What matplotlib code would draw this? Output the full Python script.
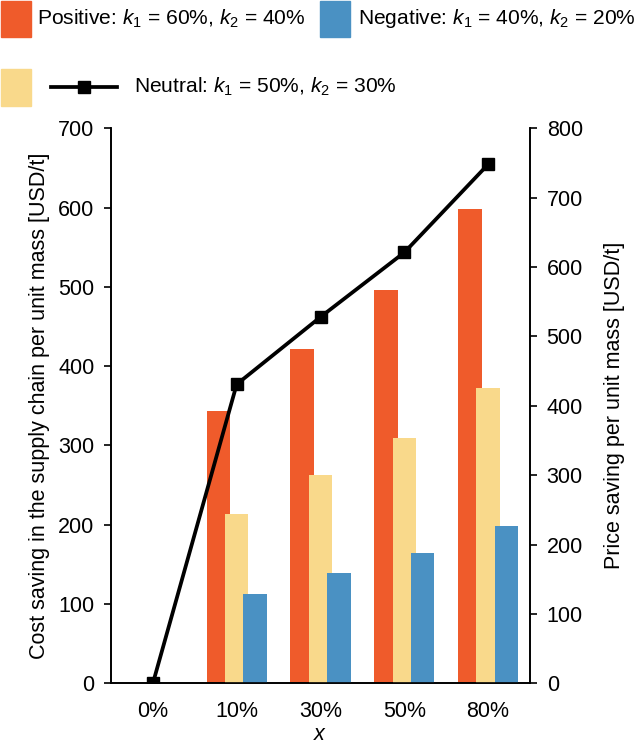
import numpy as np
import matplotlib
matplotlib.use('Agg')
import matplotlib.pyplot as plt
from matplotlib.patches import Rectangle
from matplotlib.lines import Line2D

plt.rcParams['font.family'] = ['Liberation Sans', 'DejaVu Sans']
plt.rcParams['mathtext.fontset'] = 'custom'
plt.rcParams['mathtext.rm'] = 'Liberation Sans'
plt.rcParams['mathtext.it'] = 'Liberation Sans:italic'
plt.rcParams['font.size'] = 15

# 数据
categories = ['0%', '10%', '30%', '50%', '80%']
positive = [0, 344, 422, 496, 598]
neutral = [0, 214, 263, 309, 373]
negative = [0, 113, 139, 164, 198]
price_saving = [0, 431, 528, 621, 748]

c_pos = '#EF5B2B'
c_neu = '#F9D98B'
c_neg = '#4A91C3'

W, H = 637, 746
fs = 15.5
fs_leg = 15.1
fig = plt.figure(figsize=(W / 100, H / 100), dpi=100)
ax = fig.add_axes([111 / W, 1 - 683.3 / H, (530 - 111) / W, (683.3 - 128.3) / H])
ax2 = ax.twinx()

x = np.arange(len(categories))
bw = 0.28
step = 0.218
ax.bar(x - step, positive, bw, color=c_pos, zorder=2)
ax.bar(x, neutral, bw, color=c_neu, zorder=3)
ax.bar(x + step, negative, bw, color=c_neg, zorder=4)

ax2.plot(x, price_saving, color='black', lw=2.7, marker='s', ms=8)

ax.set_xlim(-0.5, 4.5)
ax.set_ylim(0, 700)
ax2.set_ylim(0, 800)
ax.set_yticks(range(0, 701, 100))
ax2.set_yticks(range(0, 801, 100))
ax.set_xticks(x)
ax.set_xticklabels(categories)

for a in (ax, ax2):
    a.spines['top'].set_visible(False)
    for s in a.spines.values():
        s.set_linewidth(1.2)
    a.tick_params(axis='y', length=5, width=1.2, labelsize=fs, pad=7)
ax.tick_params(axis='x', length=0, labelsize=fs, pad=12.5)

ax.set_ylabel('Cost saving in the supply chain per unit mass [USD/t]', fontsize=fs, labelpad=6)
ax2.set_ylabel('Price saving per unit mass [USD/t]', fontsize=fs, labelpad=15)
ax.set_xlabel('$x$', fontsize=fs, labelpad=1.5)


# 手动画图例
def px(xp, yp):
    return xp / W, 1 - yp / H


def patch(x0, y0, w, h, color):
    fx, fy = px(x0, y0 + h)
    fig.patches.append(Rectangle((fx, fy), w / W, h / H, color=color,
                                 transform=fig.transFigure, figure=fig))


patch(1, 1, 30, 36, c_pos)
fig.text(*px(37, 19), 'Positive: $k_1$ = 60%, $k_2$ = 40%', va='center', fontsize=fs_leg)
patch(320, 1, 30, 36, c_neg)
fig.text(*px(358, 19), 'Negative: $k_1$ = 40%, $k_2$ = 20%', va='center', fontsize=fs_leg)
patch(1, 69, 30, 37, c_neu)
lx0, ly = px(51, 87)
lx1, _ = px(117, 87)
fig.lines.append(Line2D([lx0, lx1], [ly, ly], color='black', lw=2.7,
                        transform=fig.transFigure, figure=fig))
fig.lines.append(Line2D([(lx0 + lx1) / 2], [ly], color='black', marker='s', ms=8,
                        transform=fig.transFigure, figure=fig))
fig.text(*px(134, 87), 'Neutral: $k_1$ = 50%, $k_2$ = 30%', va='center', fontsize=fs_leg)

fig.savefig('out.png', dpi=100)
